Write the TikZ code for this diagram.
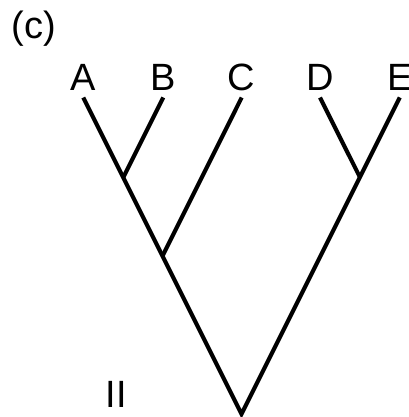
\documentclass[tikz,border=0pt]{standalone}
\usepackage{fontspec}
\setmainfont{Liberation Sans}
\begin{document}
\begin{tikzpicture}[x=1pt,y=-1pt,
  branch/.style={line width=4.1pt,line cap=butt,line join=miter},
  taxon/.style={inner sep=0pt,anchor=base,font=\fontsize{38}{40}\selectfont}]
\useasboundingbox (0,0) rectangle (408,417);
% leaf tips and internal nodes of the tree
\coordinate (tA) at (83.25,97.5);
\coordinate (tB) at (163.25,97.5);
\coordinate (tC) at (241.7,97.5);
\coordinate (tD) at (320,97.5);
\coordinate (tE) at (399.75,97.5);
\coordinate (root) at (241.5,414);
\coordinate (nAB) at (123.25,177.5);
\coordinate (nABC) at (162.5,256);
\coordinate (nDE) at (359.9,177.2);
% taxon labels
\node[taxon] (A) at (83.5,90.5) {A};
\node[taxon] (B) at (163.25,90.5) {B};
\node[taxon] (C) at (241.7,90.5) {C};
\node[taxon] (D) at (320,90.5) {D};
\node[taxon] (E) at (399.75,90.5) {E};
\node[taxon] (panel) at (34,39) {(c)};
\node[taxon] (tree) at (116.5,407.5) {II};
% branches
\draw[branch] (tA) -- (root) -- (tE);
\draw[branch] (tB) -- (nAB);
\draw[branch] (tC) -- (nABC);
\draw[branch] (tD) -- (nDE);
\end{tikzpicture}
\end{document}
